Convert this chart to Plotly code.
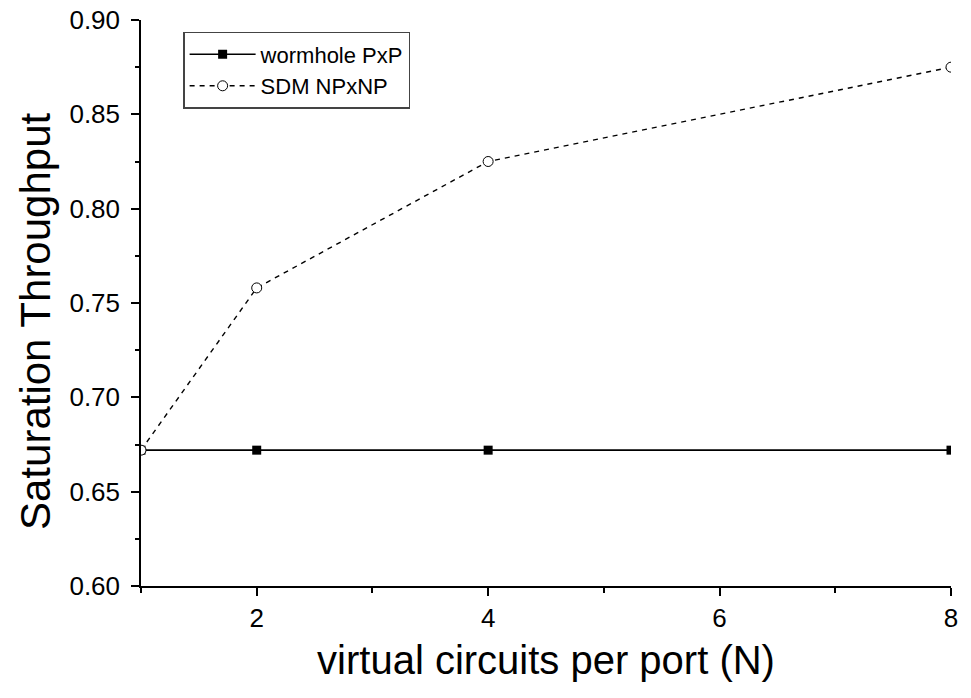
import plotly.graph_objects as go

# virtual circuits per port
n_vc = [1, 2, 4, 8]
wormhole = [0.672, 0.672, 0.672, 0.672]
sdm = [0.672, 0.758, 0.825, 0.875]

x_ticks = [2, 4, 6, 8]
y_ticks = [0.60, 0.65, 0.70, 0.75, 0.80, 0.85, 0.90]

FONT = "Liberation Sans, Arial, sans-serif"

fig = go.Figure()
fig.add_trace(go.Scatter(
    x=n_vc, y=wormhole, name="wormhole PxP", mode="lines+markers",
    line=dict(color="black", width=1.6),
    marker=dict(symbol="square", size=9, color="black"),
))
fig.add_trace(go.Scatter(
    x=n_vc, y=sdm, name="SDM NPxNP", mode="lines+markers",
    line=dict(color="black", width=1.4, dash="5px,5px"),
    marker=dict(symbol="circle", size=10, color="white",
                line=dict(color="black", width=1)),
))

axis_common = dict(
    showgrid=False, zeroline=False, showline=True, linecolor="black",
    linewidth=1.5, ticks="outside", tickcolor="black", tickwidth=1.5,
    ticklen=8, tickfont=dict(family=FONT, size=26, color="black"),
    mirror=False, automargin=False,
)

fig.update_layout(
    width=971, height=698,
    margin=dict(l=141, r=20, t=20, b=112),
    paper_bgcolor="white", plot_bgcolor="white",
    font=dict(family=FONT, color="black"),
    showlegend=True,
    legend=dict(
        x=0.052, y=0.979, xanchor="left", yanchor="top",
        bgcolor="white", bordercolor="#444444", borderwidth=1.5,
        font=dict(family=FONT, size=22, color="black"),
        tracegroupgap=0, itemwidth=66,
    ),
    xaxis=dict(
        range=[1, 8], tickvals=x_ticks, ticktext=[str(v) for v in x_ticks],
        minor=dict(tick0=1, dtick=2, ticks="outside", ticklen=5,
                   tickcolor="black", tickwidth=1.5),
        ticklabelstandoff=0,
        title=dict(text="virtual circuits per port (N)",
                   font=dict(family=FONT, size=40, color="black"),
                   standoff=14),
        **axis_common,
    ),
    yaxis=dict(
        range=[0.60, 0.90], tickvals=y_ticks,
        ticktext=[f"{v:.2f}" for v in y_ticks],
        minor=dict(tick0=0.625, dtick=0.05, ticks="outside", ticklen=4,
                   tickcolor="black", tickwidth=1.5),
        ticklabelstandoff=6,
        **axis_common,
    ),
)

# y-axis title placed slightly below the plot-area centre
fig.add_annotation(
    text="Saturation Throughput", textangle=-90, showarrow=False,
    xref="paper", yref="paper", x=-0.131, y=0.468,
    xanchor="center", yanchor="middle",
    font=dict(family=FONT, size=42, color="black"),
)

fig.write_html("out.html")
